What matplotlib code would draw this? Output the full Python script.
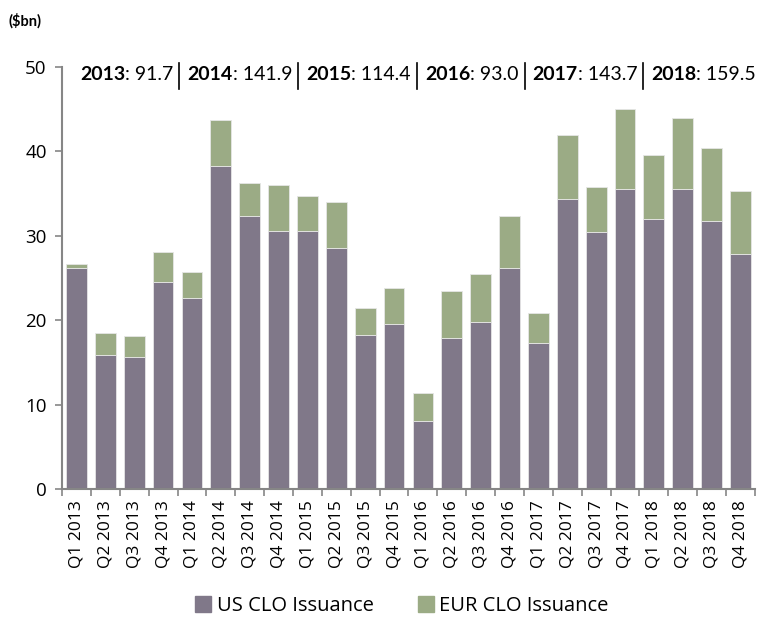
import numpy as np
import matplotlib.pyplot as plt
from matplotlib.patches import Patch

quarters = ['Q1 2013', 'Q2 2013', 'Q3 2013', 'Q4 2013',
            'Q1 2014', 'Q2 2014', 'Q3 2014', 'Q4 2014',
            'Q1 2015', 'Q2 2015', 'Q3 2015', 'Q4 2015',
            'Q1 2016', 'Q2 2016', 'Q3 2016', 'Q4 2016',
            'Q1 2017', 'Q2 2017', 'Q3 2017', 'Q4 2017',
            'Q1 2018', 'Q2 2018', 'Q3 2018', 'Q4 2018']
us_clo = [26.2, 15.9, 15.6, 24.5,
          22.6, 38.3, 32.3, 30.6,
          30.6, 28.5, 18.3, 19.5,
          8.1, 17.9, 19.8, 26.2,
          17.3, 34.4, 30.4, 35.5,
          32.0, 35.5, 31.7, 27.8]
total_clo = [26.6, 18.5, 18.1, 28.1,
             25.7, 43.7, 36.2, 36.0,
             34.7, 34.0, 21.5, 23.8,
             11.4, 23.5, 25.5, 32.3,
             20.8, 41.9, 35.8, 45.0,
             39.6, 43.9, 40.4, 35.3]
eur_clo = [round(t - u, 1) for t, u in zip(total_clo, us_clo)]

years = ['2013', '2014', '2015', '2016', '2017', '2018']
year_totals = ['91.7', '141.9', '114.4', '93.0', '143.7', '159.5']

us_color = '#807889'
eur_color = '#9bab85'
axis_gray = '#868686'

plt.rcParams['font.family'] = ['Open Sans', 'DejaVu Sans']

fig = plt.figure(figsize=(7.61, 6.17), dpi=100)
ax = fig.add_axes([0.0815, 0.2075, 0.9105, 0.684])

x = np.arange(len(quarters))
ax.bar(x, us_clo, width=0.72, color=us_color, edgecolor='#e6e6e6', linewidth=0.6,
       label='US CLO Issuance')
ax.bar(x, eur_clo, width=0.72, bottom=us_clo, color=eur_color, edgecolor='#e6e6e6',
       linewidth=0.6, label='EUR CLO Issuance')

ax.set_xlim(-0.5, len(quarters) - 0.5)
ax.set_ylim(0, 50)
ax.set_yticks([0, 10, 20, 30, 40, 50])
ax.tick_params(axis='y', labelsize=13.5, color=axis_gray, length=5, width=1.2, pad=6)
ax.set_xticks(x)
ax.set_xticklabels(quarters, rotation=90, fontsize=12.5)
ax.tick_params(axis='x', which='major', length=0, pad=8)
ax.set_xticks(np.arange(-0.5, len(quarters)), minor=True)
ax.tick_params(axis='x', which='minor', length=5, color=axis_gray, width=1.2)

for s in ['top', 'right']:
    ax.spines[s].set_visible(False)
for s in ['left', 'bottom']:
    ax.spines[s].set_color(axis_gray)
    ax.spines[s].set_linewidth(1.5)

ann_font = ['Lato', 'DejaVu Sans']
fig.text(0.011, 0.978, '($bn)', fontsize=10.5, fontweight='bold', va='top',
         family=ann_font)

# yearly totals line above the bars
fig.canvas.draw()
renderer = fig.canvas.get_renderer()
xpos = 80
ypix = 617 - 75
for i, (yr, tot) in enumerate(zip(years, year_totals)):
    t1 = fig.text(xpos / 761, ypix / 617, yr, fontsize=14, fontweight='bold',
                  va='center', family=ann_font)
    xpos = t1.get_window_extent(renderer).x1
    t2 = fig.text(xpos / 761, ypix / 617, ': ' + tot, fontsize=14, va='center',
                  family=ann_font)
    xpos = t2.get_window_extent(renderer).x1
    if i < len(years) - 1:
        xpos += 6
        fig.add_artist(plt.Line2D([xpos / 761, xpos / 761], [(617 - 63) / 617, (617 - 89) / 617],
                                  transform=fig.transFigure, color='black', linewidth=1.2))
        xpos += 8

handles = [Patch(color=us_color, label='US CLO Issuance'),
           Patch(color=eur_color, label='EUR CLO Issuance')]
fig.legend(handles=handles, loc='center', bbox_to_anchor=(0.528, 0.018), ncol=2,
           frameon=False, fontsize=14.5, handlelength=0.8, handleheight=0.8,
           handletextpad=0.25, columnspacing=2.2)

fig.savefig('out.png', dpi=100)
